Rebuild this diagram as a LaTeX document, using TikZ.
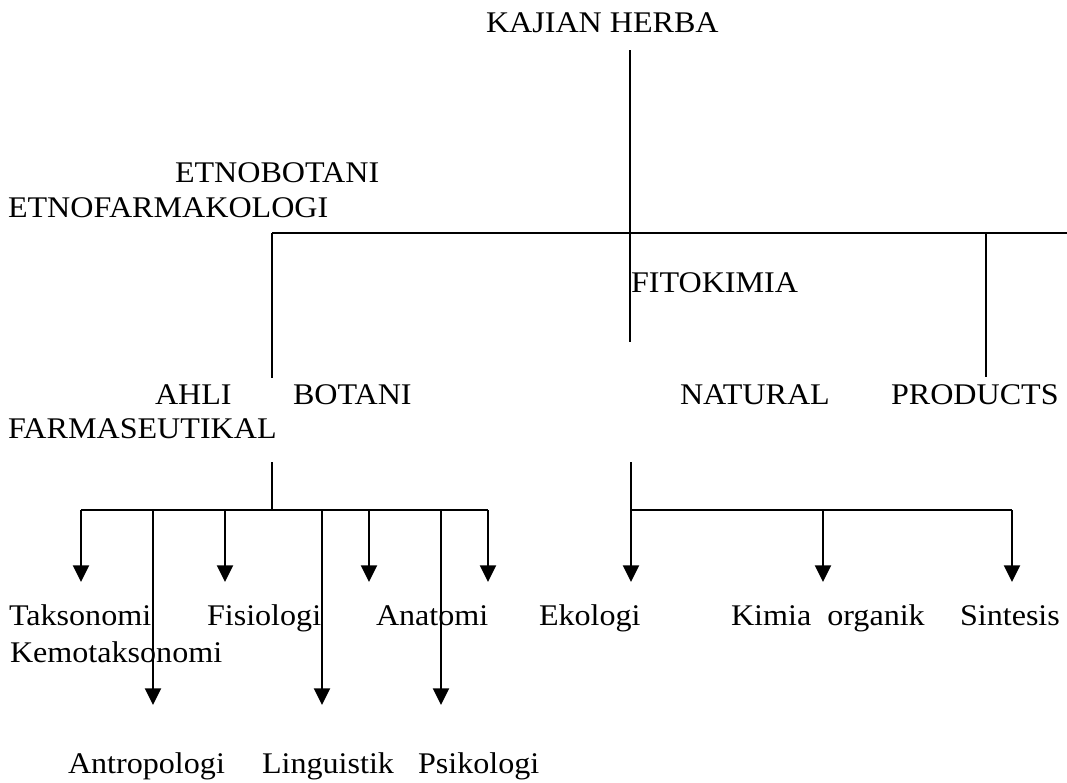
\documentclass[tikz,border=0pt]{standalone}
\usepackage{fontspec}
\setmainfont[FakeStretch=1.07]{Liberation Serif}
\usetikzlibrary{arrows.meta}
\begin{document}
\begin{tikzpicture}[x=0.75pt,y=-0.75pt,
  lbl/.style={anchor=base west,inner sep=0pt,outer sep=0pt,font=\fontsize{22.5}{27}\selectfont},
  ln/.style={line width=1.5pt},
  bar/.style={line width=2.2pt},
  arr/.style={line width=1.5pt,-{Triangle[length=12.5pt,width=12pt]}}]
\useasboundingbox (0,0) rectangle (1067,782);
% texts
\node[lbl] (kajian) at (486,32) {KAJIAN HERBA};
\node[lbl] (etnobot) at (175,182) {ETNOBOTANI};
\node[lbl] (etnofar) at (8,217) {ETNOFARMAKOLOGI};
\node[lbl] (fitok) at (631,292) {FITOKIMIA};
\node[lbl] (ahli) at (155,404) {AHLI};
\node[lbl] (botani) at (293,404) {BOTANI};
\node[lbl] (natural) at (680,404) {NATURAL};
\node[lbl] (products) at (891,404) {PRODUCTS};
\node[lbl] (farma) at (8,438) {FARMASEUTIKAL};
\node[lbl] (takso) at (9,625) {Taksonomi};
\node[lbl] (fisio) at (207,625) {Fisiologi};
\node[lbl] (anat) at (376,625) {Anatomi};
\node[lbl] (ekol) at (539,625) {Ekologi};
\node[lbl] (kimia) at (731,625) {Kimia\ \ organik};
\node[lbl] (sint) at (960,625) {Sintesis};
\node[lbl] (kemo) at (10,662) {Kemotaksonomi};
\node[lbl] (antro) at (68,773) {Antropologi};
\node[lbl] (lingu) at (262,773) {Linguistik};
\node[lbl] (psiko) at (418,773) {Psikologi};
% coordinates
\coordinate (kTop) at (630,50);
\coordinate (kBot) at (630,342);
\coordinate (hL) at (272,233);
\coordinate (hR) at (1067,233);
\coordinate (lBot) at (272,378);
\coordinate (rTop) at (986,233);
\coordinate (rBot) at (986,377);
\coordinate (lsTop) at (272,462);
\coordinate (lsBar) at (272,510);
\coordinate (lbL) at (81,510);
\coordinate (lbR) at (488,510);
\coordinate (rsTop) at (631,462);
\coordinate (rsBar) at (631,510);
\coordinate (rbR) at (1012,510);
% upper lines
\draw[ln] (kTop) -- (kBot);
\draw[bar] (hL) -- (hR);
\draw[ln] (hL) -- (lBot);
\draw[ln] (rTop) -- (rBot);
% left lower group
\draw[ln] (lsTop) -- (lsBar);
\draw[bar] (lbL) -- (lbR);
\foreach \x in {81,225,369,488} \draw[arr] (\x,510) -- (\x,582);
\foreach \x in {153,322,441} \draw[arr] (\x,510) -- (\x,705);
% right lower group
\draw[ln] (rsTop) -- (rsBar);
\draw[bar] (rsBar) -- (rbR);
\foreach \x in {631,823,1012} \draw[arr] (\x,510) -- (\x,582);
\end{tikzpicture}
\end{document}
